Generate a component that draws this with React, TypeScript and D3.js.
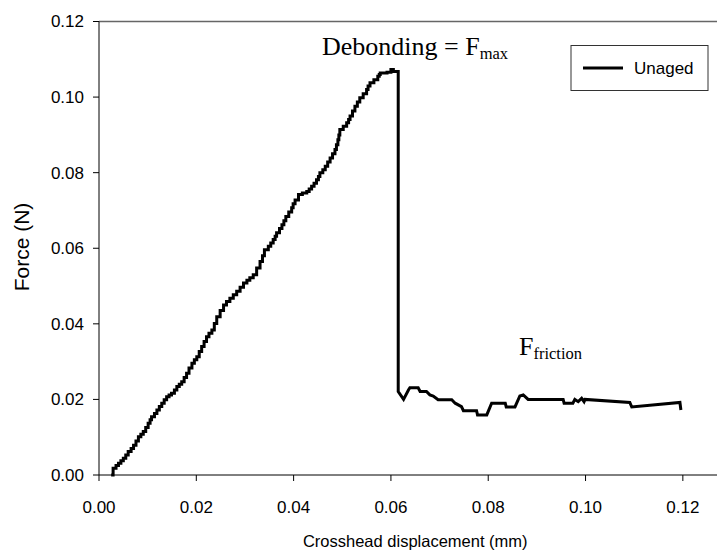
import React from "react";
import * as d3 from "d3";

// ---- Data ----
const xTicks = [0, 0.02, 0.04, 0.06, 0.08, 0.1, 0.12];
const yTicks = [0, 0.02, 0.04, 0.06, 0.08, 0.1, 0.12];

// Loading (staircase) part: each level holds until the next displacement
const riseDisplacement = [
  0.0025, 0.0029, 0.0035, 0.004, 0.0045, 0.005, 0.0055, 0.006, 0.0066, 0.0071,
  0.0076, 0.0081, 0.0086, 0.0091, 0.0096, 0.0101, 0.0105, 0.0108, 0.0114, 0.0119,
  0.0124, 0.0129, 0.0134, 0.0139, 0.0144, 0.0149, 0.0155, 0.016, 0.0165, 0.017,
  0.0175, 0.018, 0.0185, 0.0191, 0.0196, 0.0201, 0.0206, 0.0211, 0.0216, 0.0221,
  0.0226, 0.0232, 0.0237, 0.0242, 0.0249, 0.0256, 0.0262, 0.0269, 0.0276, 0.0283,
  0.029, 0.0297, 0.0304, 0.031, 0.0317, 0.0324, 0.0331, 0.0336, 0.034, 0.0348,
  0.0353, 0.0358, 0.0362, 0.0365, 0.0371, 0.0376, 0.038, 0.0384, 0.039, 0.0396,
  0.0399, 0.0403, 0.041, 0.0418, 0.0427, 0.0432, 0.0437, 0.0442, 0.0447, 0.0451,
  0.0454, 0.046, 0.0465, 0.047, 0.0475, 0.048, 0.0485, 0.0488, 0.0491, 0.0493,
  0.0495, 0.0502, 0.0509, 0.0513, 0.0516, 0.0521, 0.0526, 0.0531, 0.0536, 0.0543,
  0.055, 0.0553, 0.0557, 0.0565, 0.0573, 0.0576, 0.0578, 0.0592, 0.06, 0.0605,
  0.0615,
];
const riseForce = [
  0.0, 0.0018, 0.0025, 0.0031, 0.0038, 0.0044, 0.0053, 0.0062, 0.007, 0.0079,
  0.009, 0.0101, 0.0108, 0.0115, 0.0126, 0.0137, 0.0146, 0.0154, 0.0163, 0.0172,
  0.0181, 0.019, 0.0199, 0.0207, 0.0212, 0.0216, 0.0225, 0.0234, 0.024, 0.0247,
  0.0258, 0.0269, 0.0283, 0.0296, 0.0305, 0.0313, 0.0327, 0.034, 0.0353, 0.0366,
  0.0375, 0.0384, 0.0401, 0.0419, 0.0435, 0.045, 0.0459, 0.0468, 0.0477, 0.0486,
  0.0497, 0.0508, 0.0515, 0.0522, 0.053, 0.0548, 0.0565, 0.058, 0.0596, 0.0605,
  0.0614, 0.0623, 0.0632, 0.0641, 0.0652, 0.0662, 0.0673, 0.0684, 0.0696, 0.0707,
  0.0718, 0.0728, 0.0742, 0.0746, 0.075, 0.0757, 0.0764, 0.0772, 0.0781, 0.079,
  0.08, 0.0808, 0.0817, 0.0828, 0.0839, 0.085, 0.0861, 0.0874, 0.0887, 0.09,
  0.0914, 0.0923, 0.0932, 0.0941, 0.095, 0.0963, 0.0976, 0.0987, 0.0998, 0.1009,
  0.102, 0.1029, 0.1038, 0.1046, 0.1055, 0.106, 0.1064, 0.1066, 0.1073, 0.1068,
  0.1064,
];

// After debonding: friction part
const frictionDisplacement = [
  0.0615, 0.0626, 0.0636, 0.0639, 0.0656, 0.066, 0.0673, 0.068, 0.0687, 0.0697,
  0.0725, 0.0732, 0.0745, 0.0749, 0.0776, 0.0778, 0.0797, 0.0807, 0.0835, 0.0837,
  0.0855, 0.0865, 0.0872, 0.0882, 0.0954, 0.0956, 0.0974, 0.0978, 0.0985, 0.0992,
  0.0997, 0.0999, 0.1091, 0.1095, 0.1194, 0.1196,
];
const frictionForce = [
  0.0221, 0.02, 0.0225, 0.0231, 0.0231, 0.0221, 0.0221, 0.0212, 0.0209, 0.0199,
  0.0199, 0.019, 0.0181, 0.017, 0.017, 0.0159, 0.0159, 0.019, 0.019, 0.018,
  0.018, 0.0209, 0.0212, 0.02, 0.02, 0.019, 0.019, 0.02, 0.0194, 0.0203,
  0.0194, 0.02, 0.0192, 0.018, 0.0192, 0.0172,
];

const seriesName = "Unaged";

export default function App() {
  const W = 717;
  const H = 551;
  const x = d3.scaleLinear().domain([0, 0.13]).range([99, 731.5]);
  const y = d3.scaleLinear().domain([0, 0.12]).range([475, 21.5]);

  const pts: [number, number][] = [];
  riseDisplacement.forEach((dx, i) => {
    if (i > 0) pts.push([dx, riseForce[i - 1]]);
    pts.push([dx, riseForce[i]]);
  });
  frictionDisplacement.forEach((dx, i) => pts.push([dx, frictionForce[i]]));

  const line = d3
    .line<[number, number]>()
    .x((d) => x(d[0]))
    .y((d) => y(d[1]));

  const fmt = d3.format(".2f");
  const sans = "Arial, 'Liberation Sans', Helvetica, sans-serif";
  const serif = "'Times New Roman', 'Liberation Serif', Times, serif";

  return (
    <div style={{ position: "fixed", left: 0, top: 0 }}>
      <svg width={W} height={H} style={{ display: "block", background: "#fff" }}>
        <rect x={0} y={0} width={W} height={H} fill="#fff" />
        {/* frame */}
        <line x1={x(0)} x2={W} y1={y(0.12)} y2={y(0.12)} stroke="#666" strokeWidth={1.5} />
        <line x1={x(0)} x2={W} y1={y(0)} y2={y(0)} stroke="#000" strokeWidth={1} />
        <line x1={x(0)} x2={x(0)} y1={y(0)} y2={y(0.12)} stroke="#000" strokeWidth={1} />

        {/* y ticks */}
        {yTicks.map((t) => (
          <g key={"y" + t}>
            <line x1={x(0) - 6} x2={x(0)} y1={y(t)} y2={y(t)} stroke="#000" />
            <text
              x={84}
              y={y(t)}
              dy="0.35em"
              textAnchor="end"
              fontFamily={sans}
              fontSize={17}
              fill="#000"
            >
              {fmt(t)}
            </text>
          </g>
        ))}
        {/* x ticks */}
        {xTicks.map((t) => (
          <g key={"x" + t}>
            <line x1={x(t)} x2={x(t)} y1={y(0)} y2={y(0) + 6} stroke="#000" />
            <text
              x={x(t)}
              y={513}
              textAnchor="middle"
              fontFamily={sans}
              fontSize={17}
              fill="#000"
            >
              {fmt(t)}
            </text>
          </g>
        ))}

        {/* axis titles */}
        <text
          x={x(0.065)}
          y={547}
          textAnchor="middle"
          fontFamily={sans}
          fontSize={16.5}
          fill="#000"
        >
          Crosshead displacement (mm)
        </text>
        <text
          transform={`translate(29,247) rotate(-90)`}
          textAnchor="middle"
          fontFamily={sans}
          fontSize={21}
          fill="#000"
        >
          Force (N)
        </text>

        {/* data line */}
        <path
          d={line(pts) || ""}
          fill="none"
          stroke="#000"
          strokeWidth={3}
          strokeLinejoin="miter"
          strokeLinecap="butt"
        />

        {/* annotations */}
        <text x={322} y={55} fontFamily={serif} fontSize={26} fill="#000">
          Debonding = F
          <tspan fontSize={16.5} dy={4}>
            max
          </tspan>
        </text>
        <text x={519} y={355} fontFamily={serif} fontSize={26} fill="#000">
          F
          <tspan fontSize={16.5} dy={4}>
            friction
          </tspan>
        </text>

        {/* legend */}
        <rect x={571} y={45.5} width={137} height={45} fill="#fff" stroke="#333" strokeWidth={1} />
        <line x1={583} x2={623} y1={68} y2={68} stroke="#000" strokeWidth={3} />
        <text x={634} y={74} fontFamily={sans} fontSize={17} fill="#000">
          {seriesName}
        </text>
      </svg>
    </div>
  );
}
